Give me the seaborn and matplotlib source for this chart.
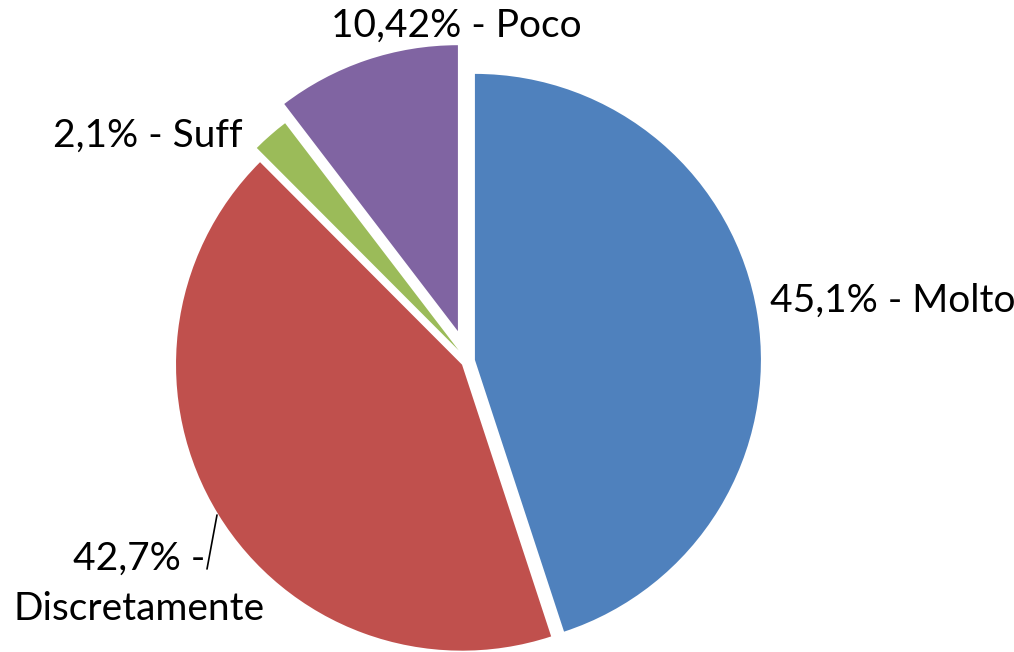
import matplotlib
matplotlib.use("Agg")
import matplotlib.pyplot as plt
from matplotlib.lines import Line2D
import seaborn as sns

sns.set_style("white")
plt.rcParams['font.family'] = ['Lato', 'DejaVu Sans']

# ---- data ----
categories = ["Molto", "Discretamente", "Suff", "Poco"]
values = [45.1, 42.7, 2.1, 10.42]
label_texts = ["45,1% - Molto", "42,7% -\nDiscretamente", "2,1% - Suff", "10,42% - Poco"]

# ---- style ----
colors = sns.color_palette(["#4F81BD", "#C0504D", "#9BBB59", "#8064A2"])
explode = [0.0245, 0.0245, 0.049, 0.11]

W, H = 1014, 652
R_PX = 286.0
CX, CY = 468.0, 361.0

fig = plt.figure(figsize=(W / 100, H / 100), dpi=100)
fig.patch.set_facecolor("white")
ax = fig.add_axes([0, 0, 1, 1])
ax.pie(values, colors=colors, explode=explode, startangle=90,
       counterclock=False, radius=1, center=(0, 0),
       wedgeprops=dict(linewidth=0))
ax.set_xlim(-CX / R_PX, (W - CX) / R_PX)
ax.set_ylim(-(H - CY) / R_PX, CY / R_PX)
ax.axis("off")


def fx(x):
    return x / W


def fy(y):
    return 1 - y / H


FS = 28
# label positions in pixels (x, baseline y, ha)
fig.text(fx(770), fy(312), label_texts[0], ha="left", va="baseline", fontsize=FS, color="black")
l1, l2 = label_texts[1].split("\n")
fig.text(fx(139.5), fy(570), l1, ha="center", va="baseline", fontsize=FS, color="black")
fig.text(fx(139), fy(620), l2, ha="center", va="baseline", fontsize=FS, color="black")
fig.text(fx(148), fy(147), label_texts[2], ha="center", va="baseline", fontsize=FS, color="black")
fig.text(fx(456), fy(37), label_texts[3], ha="center", va="baseline", fontsize=FS, color="black")

# leader line for Discretamente
fig.add_artist(Line2D([fx(217), fx(207)], [fy(515), fy(569)], color="black", linewidth=1.2,
                      transform=fig.transFigure))

fig.savefig("out.png", dpi=100, facecolor="white")
